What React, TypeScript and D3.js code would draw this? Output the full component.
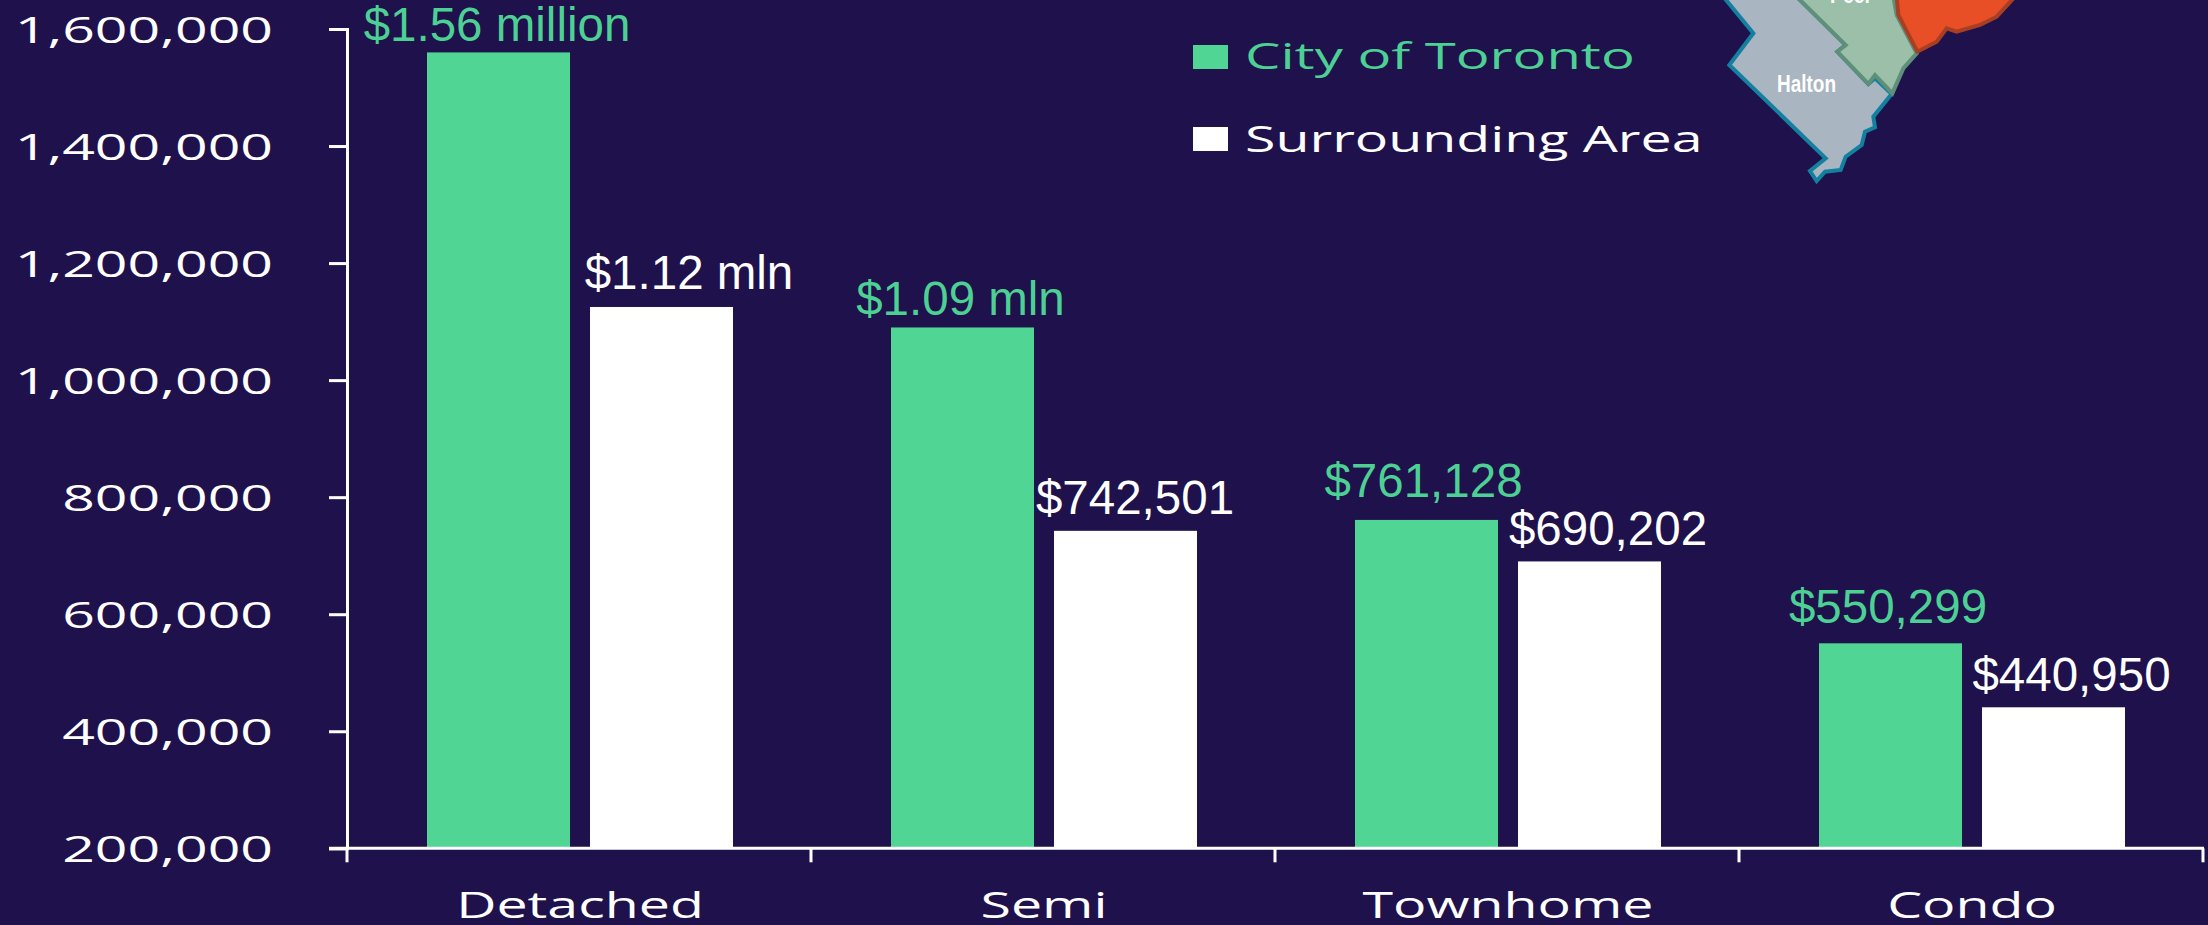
import React, { useEffect, useRef } from "react";
import * as d3 from "d3";

const categories = ["Detached", "Semi", "Townhome", "Condo"];
const seriesNames = ["City of Toronto", "Surrounding Area"];
const toronto = [1560000, 1090000, 761128, 550299];
const surrounding = [1125000, 742501, 690202, 440950];
const torontoLabels = ["$1.56 million", "$1.09 mln", "$761,128", "$550,299"];
const surroundingLabels = ["$1.12 mln", "$742,501", "$690,202", "$440,950"];
const yTicks = [200000, 400000, 600000, 800000, 1000000, 1200000, 1400000, 1600000];

const BG = "#1F114C";
const GREEN = "#50D595";
const GREEN_TEXT = "#4DD093";
const WHITE = "#FFFFFF";
const AXIS_FONT = "'Open Sans', sans-serif";
const VALUE_FONT = "'Liberation Sans', Arial, sans-serif";

// Label placement relative to each bar.
const torontoNudge = [
  { dx: -1.5, dy: -11 },
  { dx: -2, dy: -12.7 },
  { dx: -3, dy: -23.3 },
  { dx: -2.5, dy: -20 },
];
const surroundingNudge = [
  { dx: 27.5, dy: -18 },
  { dx: 9.5, dy: -17 },
  { dx: 18.5, dy: -16.7 },
  { dx: 18, dy: -16 },
];
const legendStretch = [1.52, 1.5];

// Decorative region map, cropped by the top of the picture.
const mapOrigin = [1680, 0];
const haltonShape: [number, number][] = [
  [130, -10], [220, 100], [148, 195], [437, 475], [390, 513], [410, 543], [435, 515], [482, 510],
  [497, 470], [545, 435], [555, 395], [585, 382], [580, 350], [635, 282], [585, 235], [565, 252],
  [472, 155], [497, 135], [350, -10],
];
const peelShape: [number, number][] = [
  [350, -10], [497, 135], [472, 155], [565, 252], [585, 225], [637, 280], [670, 205], [710, 160],
  [650, 45], [640, -10],
];
const torontoShape: [number, number][] = [
  [650, -10], [655, 45], [712, 155], [770, 125], [800, 85], [830, 95], [900, 75], [950, 50], [1005, -10],
];

export default function App() {
  const yAxisRef = useRef<SVGGElement>(null);
  const xAxisRef = useRef<SVGGElement>(null);

  const left = 347;
  const right = 2203;
  const bottom = 848.3;
  const top = 29;

  const y = d3.scaleLinear().domain([200000, 1600000]).range([bottom, top]);
  const x = d3.scaleBand<string>().domain(categories).range([left, right]);
  const inner = d3
    .scaleBand<string>()
    .domain(seriesNames)
    .range([80, 386])
    .paddingInner(20 / 163);

  const mapLine = d3
    .line<[number, number]>()
    .x((d) => mapOrigin[0] + d[0] / 3)
    .y((d) => mapOrigin[1] + d[1] / 3)
    .curve(d3.curveLinearClosed);

  useEffect(() => {
    const yAxis = d3
      .axisLeft(y)
      .tickValues(yTicks)
      .tickSize(18)
      .tickSizeOuter(18)
      .tickPadding(0)
      .tickFormat((d) => d3.format(",")(d as number));
    const gy = d3.select(yAxisRef.current!);
    gy.call(yAxis as any);
    gy.selectAll("path, line").attr("stroke", WHITE).attr("stroke-width", 3);
    gy.selectAll<SVGTextElement, number>("text")
      .attr("x", null)
      .attr("dy", null)
      .attr("fill", WHITE)
      .attr("text-anchor", "end")
      .style("font-family", AXIS_FONT)
      .style("font-size", "37px")
      .attr("transform", `translate(${273 - left},13) scale(1.545,1)`);

    const xAxis = d3.axisBottom(x).tickSize(0).tickPadding(0);
    const gx = d3.select(xAxisRef.current!);
    gx.call(xAxis as any);
    gx.select("path.domain").remove();
    gx.selectAll("line").remove();
    gx.selectAll<SVGTextElement, string>("text")
      .attr("y", null)
      .attr("dy", null)
      .attr("fill", WHITE)
      .attr("text-anchor", "middle")
      .style("font-family", AXIS_FONT)
      .style("font-size", "37px")
      .attr("transform", `translate(1,${918 - bottom}) scale(1.5,1)`);
  }, []);

  const edges = [...categories.map((c) => x(c)!), right];

  const bars = categories.flatMap((c, i) => [
    { key: c + "t", x: x(c)! + inner(seriesNames[0])!, v: toronto[i], fill: GREEN, text: torontoLabels[i], color: GREEN_TEXT, nudge: torontoNudge[i] },
    { key: c + "s", x: x(c)! + inner(seriesNames[1])!, v: surrounding[i], fill: WHITE, text: surroundingLabels[i], color: WHITE, nudge: surroundingNudge[i] },
  ]);

  return (
    <svg
      width={2208}
      height={925}
      viewBox="0 0 2208 925"
      style={{ position: "fixed", left: 0, top: 0, display: "block", background: BG }}
    >
      <rect width={2208} height={925} fill={BG} />

      {/* Map */}
      <path d={mapLine(haltonShape)!} fill="#A9B5C1" stroke="#13809F" strokeWidth={4} strokeLinejoin="miter" />
      <path d={mapLine(peelShape)!} fill="#9BBFA8" stroke="#5E9079" strokeWidth={4} />
      <path d={mapLine(torontoShape)!} fill="#E94F27" stroke="#A83F22" strokeWidth={4} />
      <text x={1777} y={92} fill="#FFFFFF" fontFamily="'Liberation Sans Narrow', 'Liberation Sans', sans-serif" fontWeight="bold" fontSize={23} textLength={59} lengthAdjust="spacingAndGlyphs">Halton</text>
      <text x={1830} y={3} fill="#FFFFFF" fontFamily="'Liberation Sans Narrow', 'Liberation Sans', sans-serif" fontWeight="bold" fontSize={23} textLength={40} lengthAdjust="spacingAndGlyphs">Peel</text>

      {/* Bars */}
      {bars.map((b) => (
        <rect key={b.key} x={b.x} y={y(b.v)} width={inner.bandwidth()} height={bottom - y(b.v)} fill={b.fill} />
      ))}

      {/* Axes */}
      <g ref={yAxisRef} transform={`translate(${left},0)`} />
      <line x1={left - 18} x2={right + 1} y1={bottom} y2={bottom} stroke={WHITE} strokeWidth={3} />
      {edges.map((e) => (
        <line key={e} x1={e} x2={e} y1={bottom} y2={bottom + 14} stroke={WHITE} strokeWidth={3} />
      ))}
      <g ref={xAxisRef} transform={`translate(0,${bottom})`} />

      {/* Value labels */}
      {bars.map((b) => (
        <text
          key={b.key + "l"}
          x={b.x + inner.bandwidth() / 2 + b.nudge.dx}
          y={y(b.v) + b.nudge.dy}
          fill={b.color}
          textAnchor="middle"
          fontFamily={VALUE_FONT}
          fontSize={47.5}
        >
          {b.text}
        </text>
      ))}

      {/* Legend */}
      {seriesNames.map((name, i) => (
        <g key={name}>
          <rect x={1193} y={45 + i * 82} width={35} height={24} fill={i === 0 ? GREEN : WHITE} />
          <text
            transform={`translate(1245,${69 + i * 83}) scale(${legendStretch[i]},1)`}
            fill={i === 0 ? GREEN_TEXT : WHITE}
            fontFamily={AXIS_FONT}
            fontSize={37}
          >
            {name}
          </text>
        </g>
      ))}
    </svg>
  );
}
